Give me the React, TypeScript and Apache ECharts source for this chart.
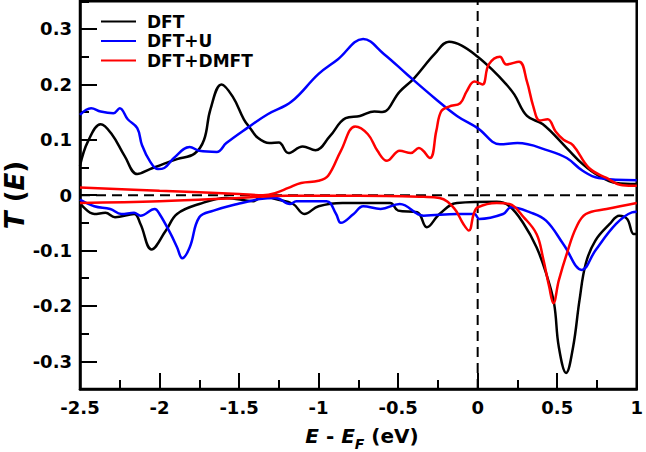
import React, { useEffect, useRef } from "react";
import * as echarts from "echarts";

// Tick values
const yMajorTicks = [-0.3, -0.2, -0.1, 0, 0.1, 0.2, 0.3];
const legendNames = ["DFT", "DFT+U", "DFT+DMFT"];

// Reference lines (E = E_F and T = 0)
const zeroLineH: number[][] = [[-2.5, 0], [1, 0]];
const zeroLineV: number[][] = [[0, -0.35], [0, 0.35]];

// DFT (black), spin up (positive) and spin down (negative)
const dftUp: number[][] = [
  [-2.5, 0.053], [-2.45, 0.097], [-2.37, 0.128], [-2.3, 0.11], [-2.22, 0.071], [-2.14, 0.038],
  [-2.06, 0.047], [-1.97, 0.057], [-1.89, 0.065], [-1.78, 0.075], [-1.72, 0.1], [-1.68, 0.155],
  [-1.61, 0.2], [-1.54, 0.178], [-1.47, 0.137], [-1.43, 0.121], [-1.38, 0.103], [-1.31, 0.094],
  [-1.25, 0.095], [-1.19, 0.076], [-1.1, 0.088], [-1.02, 0.081], [-0.93, 0.106], [-0.83, 0.139],
  [-0.74, 0.143], [-0.65, 0.151], [-0.6, 0.15], [-0.49, 0.187], [-0.4, 0.211], [-0.27, 0.255],
  [-0.18, 0.277], [-0.1, 0.27], [0, 0.25], [0.09, 0.227], [0.18, 0.2], [0.23, 0.182],
  [0.31, 0.143], [0.41, 0.128], [0.56, 0.085], [0.66, 0.056], [0.76, 0.035], [0.87, 0.022], [1.0, 0.02],
];
const dftDown: number[][] = [
  [-2.5, -0.014], [-2.41, -0.034], [-2.34, -0.032], [-2.28, -0.04], [-2.16, -0.034], [-2.12, -0.052],
  [-2.05, -0.098], [-1.96, -0.064], [-1.89, -0.034], [-1.75, -0.016], [-1.58, -0.005], [-1.41, -0.011],
  [-1.35, -0.001], [-1.27, -0.007], [-1.16, -0.016], [-1.09, -0.034], [-1.0, -0.02], [-0.85, -0.014],
  [-0.55, -0.014], [-0.5, -0.028], [-0.38, -0.031], [-0.32, -0.058], [-0.24, -0.034], [-0.13, -0.014],
  [0.12, -0.012], [0.2, -0.02], [0.29, -0.052], [0.37, -0.094], [0.43, -0.141], [0.48, -0.195],
  [0.51, -0.274], [0.556, -0.321], [0.6, -0.274], [0.64, -0.19], [0.68, -0.123], [0.74, -0.082],
  [0.83, -0.052], [0.89, -0.037], [0.94, -0.043], [0.98, -0.07], [1.0, -0.07],
];

// DFT+U (blue)
const dftUUp: number[][] = [
  [-2.5, 0.145], [-2.43, 0.157], [-2.37, 0.151], [-2.29, 0.148], [-2.25, 0.157], [-2.2, 0.137],
  [-2.14, 0.121], [-2.11, 0.09], [-2.06, 0.061], [-2.01, 0.047], [-1.97, 0.049], [-1.91, 0.067],
  [-1.81, 0.087], [-1.75, 0.08], [-1.64, 0.078], [-1.58, 0.094], [-1.45, 0.121], [-1.32, 0.146],
  [-1.17, 0.169], [-1.0, 0.219], [-0.88, 0.245], [-0.72, 0.282], [-0.59, 0.255], [-0.44, 0.217],
  [-0.27, 0.175], [-0.13, 0.143], [0, 0.121], [0.14, 0.092], [0.25, 0.094], [0.45, 0.08],
  [0.56, 0.067], [0.66, 0.044], [0.76, 0.031], [1.0, 0.027],
];
const dftUDown: number[][] = [
  [-2.5, -0.008], [-2.41, -0.02], [-2.31, -0.025], [-2.24, -0.034], [-2.16, -0.032], [-2.12, -0.037],
  [-2.03, -0.025], [-2.0, -0.034], [-1.93, -0.07], [-1.89, -0.094], [-1.857, -0.114], [-1.81, -0.094],
  [-1.75, -0.04], [-1.66, -0.028], [-1.51, -0.016], [-1.37, -0.007], [-1.27, -0.005], [-1.18, -0.016],
  [-1.14, -0.011], [-0.95, -0.011], [-0.89, -0.034], [-0.86, -0.05], [-0.78, -0.034], [-0.72, -0.02],
  [-0.61, -0.025], [-0.49, -0.016], [-0.34, -0.037], [-0.13, -0.034], [-0.02, -0.034], [0.01, -0.043],
  [0.16, -0.034], [0.21, -0.022], [0.33, -0.031], [0.43, -0.046], [0.54, -0.089], [0.655, -0.135],
  [0.74, -0.1], [0.87, -0.052], [0.97, -0.031], [1.0, -0.03],
];

// DFT+DMFT (red)
const dmftUp: number[][] = [
  [-2.5, 0.014], [-2.0, 0.008], [-1.5, 0.002], [-1.35, 0.0], [-1.27, 0.004], [-1.19, 0.013],
  [-1.11, 0.022], [-1.0, 0.026], [-0.94, 0.035], [-0.86, 0.08], [-0.77, 0.124], [-0.69, 0.11],
  [-0.63, 0.08], [-0.57, 0.062], [-0.49, 0.08], [-0.42, 0.076], [-0.37, 0.085], [-0.3, 0.067],
  [-0.26, 0.116], [-0.23, 0.151], [-0.18, 0.16], [-0.11, 0.166], [-0.07, 0.187], [-0.02, 0.205],
  [0.03, 0.2], [0.07, 0.236], [0.14, 0.25], [0.18, 0.236], [0.26, 0.241], [0.31, 0.205],
  [0.35, 0.16], [0.39, 0.135], [0.44, 0.137], [0.49, 0.115], [0.54, 0.1], [0.6, 0.09],
  [0.7, 0.049], [0.81, 0.031], [0.91, 0.018], [1.0, 0.017],
];
const dmftDown: number[][] = [
  [-2.5, -0.014], [-2.0, -0.011], [-1.5, -0.005], [-1.2, -0.001], [-0.75, -0.001], [-0.34, -0.003],
  [-0.24, -0.005], [-0.15, -0.023], [-0.09, -0.052], [-0.055, -0.064], [-0.025, -0.034], [0, -0.022],
  [0.12, -0.014], [0.2, -0.016], [0.29, -0.04], [0.37, -0.07], [0.41, -0.112], [0.45, -0.166],
  [0.476, -0.195], [0.51, -0.154], [0.56, -0.106], [0.62, -0.058], [0.68, -0.034], [0.81, -0.025],
  [1.0, -0.014],
];

const FONT = "DejaVu Sans";

function fmt(v: number): string {
  const r = Math.round(v * 100) / 100;
  if (Math.abs(Math.round(r * 10) - r * 10) > 1e-6) return "";
  return String(r === 0 ? 0 : r);
}

export default function App() {
  const ref = useRef<HTMLDivElement>(null);
  useEffect(() => {
    if (!ref.current) return;
    const chart = echarts.init(ref.current, null, { renderer: "svg" });
    const line = (name: string, data: number[][], color: string) => ({
      type: "line",
      name,
      data,
      symbol: "none",
      showSymbol: false,
      smooth: 0.4,
      z: 3,
      lineStyle: { color, width: 2.5 },
      itemStyle: { color },
    });
    const dashed = (data: number[][]) => ({
      type: "line",
      name: "zero",
      data,
      symbol: "none",
      showSymbol: false,
      silent: true,
      z: 2,
      lineStyle: { color: "#000", width: 2, type: [10, 6] },
    });
    const labelStyle = { fontFamily: FONT, fontWeight: "bold", fontSize: 18, color: "#000" };
    chart.setOption({
      animation: false,
      grid: {
        left: 80, right: 5, top: 1.3, bottom: 63,
        show: true, borderColor: "#000", borderWidth: 2.5, backgroundColor: "transparent",
      },
      legend: {
        data: legendNames,
        orient: "vertical",
        left: 95,
        top: 8,
        itemWidth: 35,
        itemHeight: 14,
        itemGap: 2.5,
        itemStyle: { opacity: 0 },
        textStyle: { ...labelStyle, fontSize: 17, padding: [0, 0, 0, 6] },
      },
      xAxis: [
        {
          type: "value", min: -2.5, max: 1, interval: 0.5,
          axisLine: { show: true, onZero: false, lineStyle: { color: "#000", width: 2.5 } },
          axisTick: { show: true, inside: true, length: 16, lineStyle: { color: "#000", width: 2 } },
          minorTick: { show: true, splitNumber: 2, length: 9, lineStyle: { color: "#000", width: 2 } },
          splitLine: { show: false },
          minorSplitLine: { show: false },
          axisLabel: { ...labelStyle, margin: 9, showMinLabel: true, showMaxLabel: true, formatter: (v: number) => String(v) },
        },
      ],
      yAxis: [
        {
          type: "value", min: -0.35, max: 0.35, interval: 0.05,
          axisLine: { show: true, onZero: false, lineStyle: { color: "#000", width: 2.5 } },
          axisTick: { show: true, inside: true, length: 17, customValues: yMajorTicks, lineStyle: { color: "#000", width: 2 } },
          splitLine: { show: false },
          axisLabel: { ...labelStyle, margin: 8, customValues: yMajorTicks, formatter: fmt },
        },
        {
          type: "value", min: -0.35, max: 0.35, interval: 0.05, position: "left",
          axisLine: { show: false, onZero: false },
          axisTick: { show: true, inside: true, length: 9, lineStyle: { color: "#000", width: 2 } },
          splitLine: { show: false },
          axisLabel: { show: false },
        },
      ],
      series: [
        dashed(zeroLineH),
        dashed(zeroLineV),
        line("DFT", dftUp, "#000000"),
        line("DFT", dftDown, "#000000"),
        line("DFT+U", dftUUp, "#0000ff"),
        line("DFT+U", dftUDown, "#0000ff"),
        line("DFT+DMFT", dmftUp, "#ff0000"),
        line("DFT+DMFT", dmftDown, "#ff0000"),
      ],
      graphic: [
        {
          type: "text",
          x: 362,
          y: 436,
          style: {
            text: "{i|E}{n| - }{i|E}{s|F}{n| (eV)}",
            align: "center",
            verticalAlign: "middle",
            fill: "#000",
            rich: {
              i: { fontFamily: FONT, fontWeight: "bold", fontStyle: "italic", fontSize: 20, lineHeight: 30, fill: "#000" },
              n: { fontFamily: FONT, fontWeight: "bold", fontSize: 20, lineHeight: 30, fill: "#000" },
              s: { fontFamily: FONT, fontWeight: "bold", fontStyle: "italic", fontSize: 14, lineHeight: 10, verticalAlign: "bottom", fill: "#000" },
            },
          },
        },
        {
          type: "text",
          x: 15,
          y: 195,
          rotation: Math.PI / 2,
          style: {
            text: "{i|T}{n| (}{i|E}{n|)}",
            align: "center",
            verticalAlign: "middle",
            fill: "#000",
            rich: {
              i: { fontFamily: FONT, fontWeight: "bold", fontStyle: "italic", fontSize: 26, fill: "#000" },
              n: { fontFamily: FONT, fontWeight: "bold", fontSize: 26, fill: "#000" },
            },
          },
        },
      ],
    });
    return () => chart.dispose();
  }, []);
  return <div ref={ref} style={{ position: "absolute", left: 0, top: 0, width: 646, height: 452 }} />;
}
